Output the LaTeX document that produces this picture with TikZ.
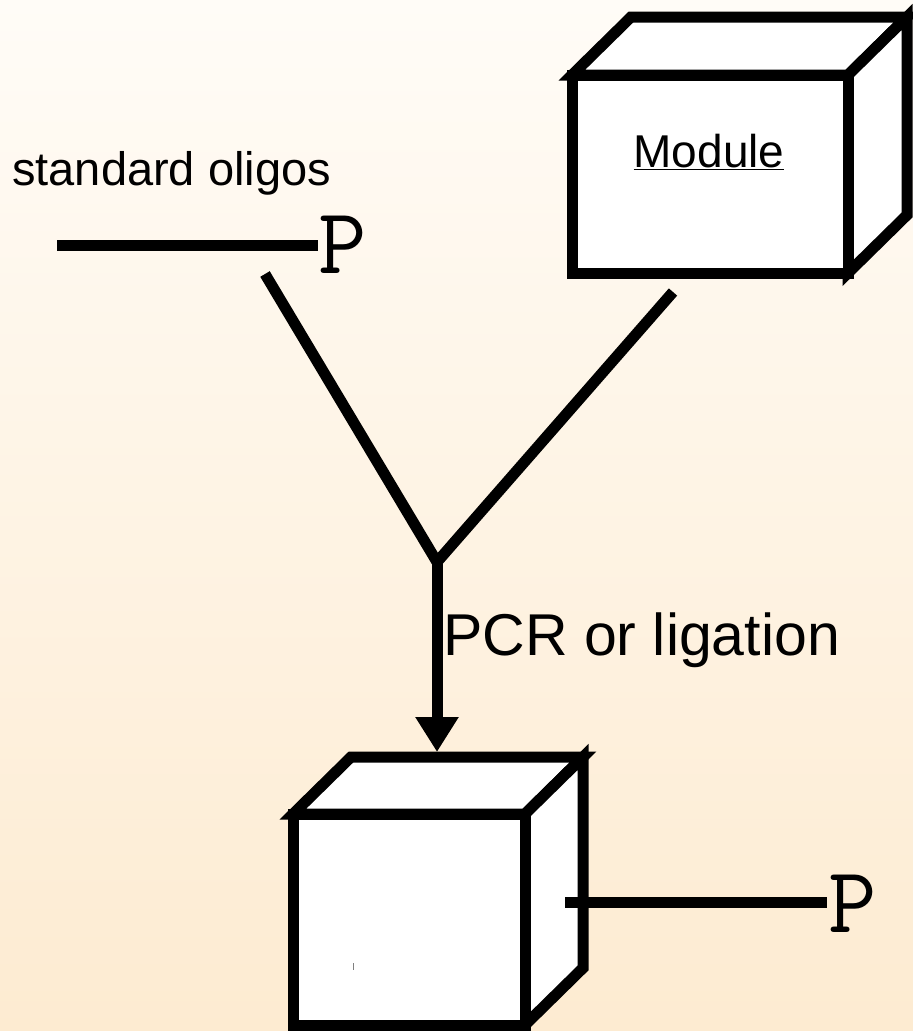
\documentclass[tikz,border=0pt]{standalone}
\usepackage{fontspec}
\setmainfont{Liberation Sans}
\usetikzlibrary{calc,positioning}
\usetikzlibrary{arrows.meta}
\definecolor{bgtop}{HTML}{FFFCF7}
\definecolor{bgbot}{HTML}{FDEBD1}

\begin{document}
\begin{tikzpicture}[x=1pt,y=-1pt]
        \tikzstyle{edge} = [line width=11pt, draw=black, line join=miter]
        \tikzstyle{face} = [edge, fill=white]
        \tikzstyle{lbl} = [inner sep=0pt, font=\fontsize{47}{54}\selectfont]
        \tikzstyle{phos} = [inner sep=0pt, font=\ttfamily\fontsize{94}{100}\selectfont]

        \useasboundingbox (0,0) rectangle (913,1031);
        \fill[top color=bgtop, bottom color=bgbot] (0,0) rectangle (913,1031);

        % module cube
        \draw[face] (572,75) -- (631,17) -- (907,17) -- (848,75) -- cycle;
        \draw[face] (848,75) -- (907,17) -- (907,215) -- (848,273) -- cycle;
        \draw[face] (572,75) rectangle (848,273);
        \node[lbl, anchor=base, font=\fontsize{46}{54}\selectfont] (mod) at (709,167) {\underline{Module}};

        % product cube
        \draw[face] (293,814) -- (351,757) -- (583,757) -- (525,814) -- cycle;
        \draw[face] (525,814) -- (583,757) -- (583,968) -- (525,1025) -- cycle;
        \draw[face] (293,814) rectangle (525,1025);
        \draw[gray, line width=1pt] (353,963) -- (353,970);

        % oligos
        \node[lbl, anchor=base west] (olig) at (12,185) {standard oligos};
        \coordinate (olA) at (57,245);
        \node[phos, anchor=base west] (pA) at (318,273) {P};
        \draw[edge] (olA) -- (318,245);

        \coordinate (prA) at (565,902);
        \node[phos, anchor=base west] (pB) at (828,932) {P};
        \draw[edge] (prA) -- (827,902);

        % reaction
        \coordinate (olEnd) at (265,274);
        \coordinate (modEnd) at (673,292);
        \coordinate (join) at (437,562);
        \coordinate (tip) at (437,752);
        \draw[edge] (olEnd) -- (join) -- (modEnd);
        \draw[edge, -{Triangle[width=41pt,length=35pt]}] (join) -- (tip);
        \node[inner sep=0pt, anchor=base west, font=\fontsize{59}{66}\selectfont] (pcr) at (443,655) {PCR or ligation};
      \end{tikzpicture}
\end{document}
